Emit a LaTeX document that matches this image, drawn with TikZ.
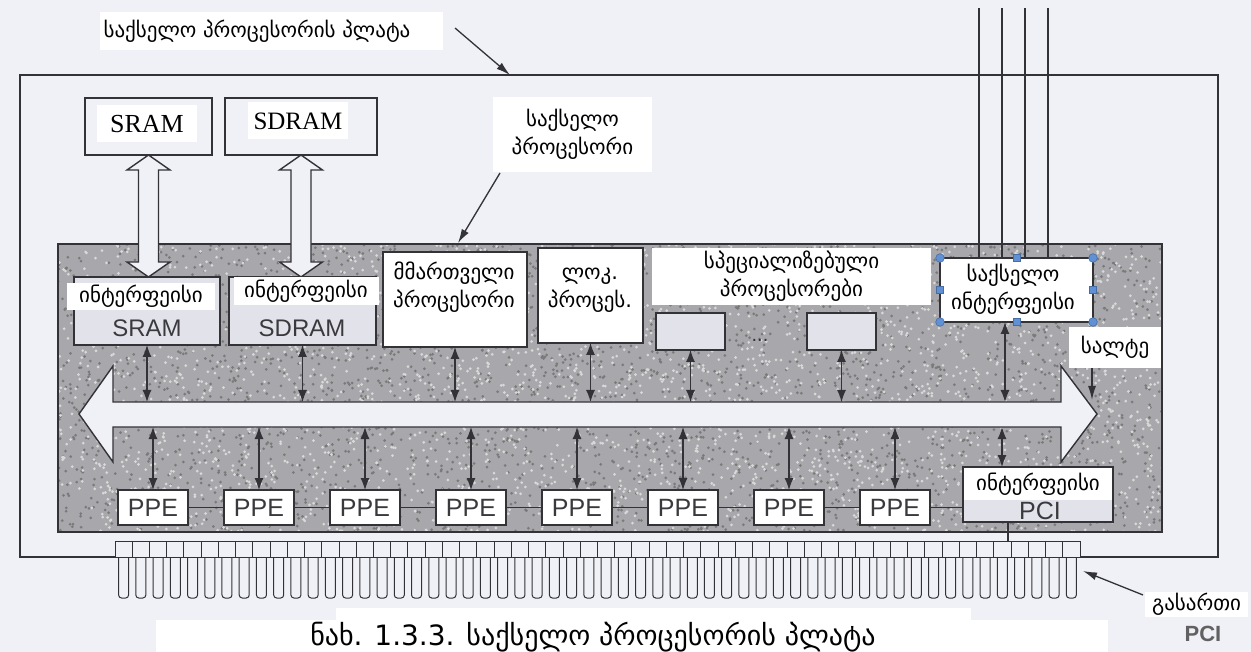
\documentclass[tikz,border=0pt]{standalone}
\usepackage{fontspec}
\setmainfont{Liberation Serif}
\newfontfamily\geo{DejaVu Sans}
\newfontfamily\hel{Liberation Sans}
\usetikzlibrary{arrows.meta,calc}
\definecolor{bg}{RGB}{240,240,247}
\definecolor{lc}{RGB}{50,50,55}
\definecolor{chipc}{RGB}{168,168,172}
\definecolor{lightc}{RGB}{226,226,234}
\definecolor{txtg}{RGB}{58,58,62}
\definecolor{hnd}{RGB}{96,145,214}
\newcommand\bx[6]{\node[#6, minimum width={(#4-#2)*1pt}, minimum height={(#5-#3)*1pt}] (#1) at ({(#2+#4)/2},{(#3+#5)/2}) {};}
\newcommand\hollowarr[3]{\draw[ln, fill=bg] (#1,#2) -- (#1+21.5,#2+15) -- (#1+10,#2+15) -- (#1+10,#3-15) -- (#1+21.5,#3-15) -- (#1,#3) -- (#1-21.5,#3-15) -- (#1-10,#3-15) -- (#1-10,#2+15) -- (#1-21.5,#2+15) -- cycle;}
\begin{document}
\begin{tikzpicture}[x=1pt,y=-1pt,
  every node/.style={inner sep=0pt,outer sep=0pt},
  ln/.style={draw=lc,line width=1.4pt},
  box/.style={draw=lc,line width=1.4pt},
  lab/.style={fill=white},
  darr/.style={draw=lc,line width=1.2pt,{Latex[length=12pt,width=9pt]}-{Latex[length=12pt,width=9pt]}},
  ptr/.style={draw=lc,line width=1.3pt,-{Latex[length=14pt,width=8pt]}},
  geot/.style={font={\geo\fontsize{21}{28}\selectfont}, text=black, align=center},
  sanst/.style={font={\hel\fontsize{24}{24}\selectfont}, text=txtg},
  sert/.style={font={\fontsize{26}{26}\selectfont}, text=black}]
\fill[bg] (0,0) rectangle (1251,652);
\useasboundingbox (0,0) rectangle (1251,652);
% board outline
\draw[ln] (115,557) -- (20,557) -- (20,75) -- (1218,75) -- (1218,557) -- (1080,557);
% PCI edge connector
\foreach \i in {0,...,55}{
  \pgfmathsetmacro\xa{115+17.232*\i}
  \draw[draw=lc,line width=1pt] (\xa,541) rectangle (\xa+17.232,557);
  \draw[draw=lc,line width=1pt,rounded corners=3pt] (\xa+3.6,557) -- (\xa+3.6,598) -- (\xa+13.6,598) -- (\xa+13.6,557);
}
\coordinate (ct) at (0,541);
% processor chip
\bx{chip}{58}{244}{1162}{532}{box,fill=chipc}
\begin{scope}
\clip (58,244) rectangle (1162,532);
\pgfmathsetseed{7}
\foreach \i in {1,...,3200}{\pgfmathsetmacro\xx{58+1104*rnd}\pgfmathsetmacro\yy{244+288*rnd}\fill[black!52] (\xx,\yy) circle (1.5);}
\foreach \i in {1,...,3200}{\pgfmathsetmacro\xx{58+1104*rnd}\pgfmathsetmacro\yy{244+288*rnd}\fill[white!85!black] (\xx,\yy) circle (1.5);}
\end{scope}
\draw[ln] (chip.north west) rectangle (chip.south east);
% bus
\draw[ln, fill=bg] (79,414) -- (113,366) -- (113,402) -- (1061,402) -- (1061,366) -- (1097,414) -- (1061,462) -- (1061,427) -- (113,427) -- (113,462) -- cycle;
\coordinate (bt) at (0,402);
\coordinate (bb) at (0,427);
% memories
\bx{sram}{85}{98}{212}{155}{box,fill=bg}
\bx{sdram}{225}{98}{377}{155}{box,fill=bg}
\node[lab, sert, minimum width=100pt, minimum height=37pt] (sramt) at (147,124) {SRAM};
\node[lab, sert, minimum width=100pt, minimum height=37pt, font={\fontsize{25}{25}\selectfont}] (sdramt) at (298,121) {SDRAM};
\hollowarr{148.5}{155}{277}
\hollowarr{301}{155}{277}
% interfaces
\bx{sramif}{74}{277}{220}{345}{box,fill=lightc}
\bx{sdramif}{229}{277}{376}{345}{box,fill=lightc}
\node[lab, geot, minimum width=148pt, minimum height=27pt] (sramifl) at (141,296.5) {ინტერფეისი};
\node[lab, geot, minimum width=145pt, minimum height=28pt] (sdramifl) at (306,291) {ინტერფეისი};
\node[sanst] (sramift) at (147,328) {SRAM};
\node[sanst] (sdramift) at (302,328) {SDRAM};
% management and local processors
\bx{mgmt}{383}{252}{527}{347}{box,fill=white}
\node[geot] (mgmtt) at (454,287) {მმართველი\\პროცესორი};
\bx{loc}{538}{248}{643}{343}{box,fill=white}
\node[geot] (loct) at (590,290) {ლოკ.\\პროცეს.};
% specialised processors
\node[lab, geot, minimum width=279pt, minimum height=57pt] (specl) at (791.5,276.5) {სპეციალიზებული\\პროცესორები};
\bx{spec1}{656}{313}{725}{350}{box,fill=lightc}
\bx{spec2}{807}{313}{876}{350}{box,fill=lightc}
\node[font={\hel\fontsize{20}{20}\selectfont}, text=lc] (dots) at (760,340) {...};
% network interface
\coordinate (nx) at (1005,0);
\foreach \x in {979,1002,1025,1048}{\draw[ln] (\x,8) -- (\x,258);}
\bx{netif}{940}{258}{1093}{322}{box,fill=white}
\node[geot] (netift) at (1013,289) {საქსელო\\ინტერფეისი};
\foreach \a in {north west,north east,south west,south east}{\filldraw[fill=hnd,draw=hnd!75!black,line width=0.6pt] (netif.\a) circle (4.3);}
\foreach \a in {north,south,east,west}{\filldraw[fill=hnd,draw=hnd!75!black,line width=0.6pt] ($(netif.\a)+(-3.5,-3.5)$) rectangle ++(7,7);}
% arrows upper band
\foreach \n in {sramif,sdramif,mgmt,loc,spec1,spec2}{\draw[darr] (\n.south) -- (\n.south |- bt);}
\draw[darr] (nx |- netif.south) -- (nx |- bt);
% PPE row
\foreach \i in {0,...,7}{
  \node[box, fill=white, minimum width=70pt, minimum height=35pt, font={\hel\fontsize{25}{25}\selectfont}, text=txtg] (ppe\i) at ({153+106*\i},507.5) {PPE};
  \draw[darr] (ppe\i.north |- bb) -- (ppe\i.north);
}
\foreach \i [evaluate=\i as \j using int(\i+1)] in {0,...,6}{\draw[ln] (ppe\i.east) -- (ppe\j.west);}
% PCI interface
\bx{pciif}{963}{467}{1113}{522}{box,fill=lightc}
\node[lab, geot, anchor=north west, minimum width=148pt, minimum height=32pt] (pcil) at (964,468) {ინტერფეისი};
\node[font={\hel\fontsize{25}{25}\selectfont}, text=txtg] (pcit) at (1040,511) {PCI};
\draw[ln] (ppe7.east) -- (ppe7.east -| pciif.west);
\coordinate (pa) at (1002,0);
\coordinate (pc) at (1008,0);
\draw[darr] (pa |- bb) -- (pa |- pciif.north);
\draw[ln] (pc |- pciif.south) -- (pc |- ct);
% labels with pointers
\node[lab, minimum width=343pt, minimum height=38pt] (toplab) at (271.5,31) {};
\node[geot] (toplabt) at (257,31) {საქსელო პროცესორის პლატა};
\coordinate (tla) at (455,28);
\coordinate (bdc) at (510,75);
\draw[ptr] (tla) -- (bdc);
\node[lab, geot, minimum width=159pt, minimum height=75pt] (procl) at (572.5,134.5) {საქსელო\\პროცესორი};
\coordinate (pla) at (500,173);
\coordinate (plb) at (458,243);
\draw[ptr] (pla) -- (plb);
\node[lab, geot, minimum width=92pt, minimum height=41pt] (saltel) at (1115,347.5) {სალტე};
\coordinate (sla) at (1092,368);
\coordinate (slb) at (1092,400);
\draw[ptr] (sla) -- (slb);
\node[lab, geot, minimum width=103pt, minimum height=25pt] (gasl) at (1196.5,604.5) {გასართი};
\node[font={\hel\bfseries\fontsize{22}{22}\selectfont}, text=black!62] (gaspci) at (1203,634) {PCI};
\coordinate (gla) at (1143,595);
\coordinate (glb) at (1083,571);
\draw[ptr] (gla) -- (glb);
% caption
\fill[white] (156,620) rectangle (1108,652);
\fill[white] (336,608) rectangle (971,652);
\node[font={\geo\fontsize{28}{28}\selectfont}] (caption) at (593,637) {ნახ. 1.3.3. საქსელო პროცესორის პლატა};
\end{tikzpicture}
\end{document}
